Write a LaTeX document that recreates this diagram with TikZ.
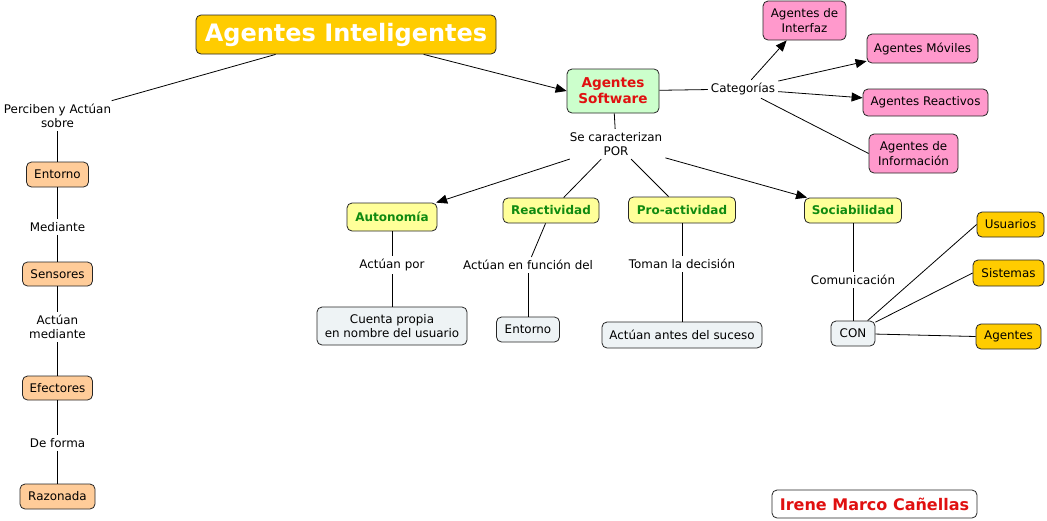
\documentclass[tikz,border=0pt]{standalone}
\usepackage{fontspec}
\setmainfont{DejaVu Sans}
\usetikzlibrary{arrows.meta}
\definecolor{cgold}{HTML}{FFCC00}
\definecolor{cgreen}{HTML}{CCFFCC}
\definecolor{cpink}{HTML}{FF99CC}
\definecolor{cyellow}{HTML}{FFFF99}
\definecolor{cgrey}{HTML}{EEF3F5}
\definecolor{cpeach}{HTML}{FFCC99}
\definecolor{tred}{HTML}{E01010}
\definecolor{tgreen}{HTML}{108A10}
\begin{document}
\begin{tikzpicture}[x=1pt,y=-1pt,
  box/.style={draw=black!85,line width=0.8pt,rounded corners=5pt,inner sep=1pt,align=center,
    font=\fontsize{11.9}{14.5}\selectfont},
  lab/.style={inner sep=3pt,align=center,font=\fontsize{11.9}{14.5}\selectfont},
  peach/.style={box,fill=cpeach},
  pink/.style={box,fill=cpink},
  yel/.style={box,fill=cyellow,text=tgreen,font=\fontsize{12}{14}\selectfont\bfseries},
  grey/.style={box,fill=cgrey},
  gold/.style={box,fill=cgold},
  link/.style={line width=0.8pt,black},
  arr/.style={link,-{Triangle[length=11pt,width=9pt]}}
]
\useasboundingbox[fill=white] (0,0) rectangle (1047,520);

% main concepts
\node[box,fill=cgold,text=white,font=\fontsize{24}{28}\selectfont\bfseries,minimum width=300,minimum height=39] (title) at (346,34.5) {Agentes Inteligentes};
\node[box,fill=cgreen,text=tred,font=\fontsize{13.6}{16}\selectfont\bfseries,minimum width=92,minimum height=44] (sw) at (613,91) {Agentes\\Software};

% categories
\node[lab] (cat) at (743,89) {Categorías};
\node[pink,minimum width=83,minimum height=39] (int) at (804.5,20.5) {Agentes de\\Interfaz};
\node[pink,minimum width=111,minimum height=29] (mov) at (922.5,48.5) {Agentes Móviles};
\node[pink,minimum width=125,minimum height=27] (rea) at (925.5,102.5) {Agentes Reactivos};
\node[pink,minimum width=89,minimum height=39] (inf) at (913.5,153.5) {Agentes de\\Información};

% characteristics
\node[lab] (secar) at (616,144) {Se caracterizan\\POR};
\node[yel,minimum width=90,minimum height=28] (aut) at (392,217) {Autonomía};
\node[yel,minimum width=96,minimum height=25] (reac) at (551,210.5) {Reactividad};
\node[yel,minimum width=107,minimum height=26] (pro) at (682,210) {Pro-actividad};
\node[yel,minimum width=97,minimum height=25] (soc) at (853,210.5) {Sociabilidad};

\node[lab] (actpor) at (392,265) {Actúan por};
\node[grey,minimum width=150,minimum height=38] (cuenta) at (392,326) {Cuenta propia\\en nombre del usuario};
\node[lab] (func) at (528,265) {Actúan en función del};
\node[grey,minimum width=63,minimum height=25] (ent2) at (528,329.5) {Entorno};
\node[lab] (toman) at (682,264) {Toman la decisión};
\node[grey,minimum width=160,minimum height=26] (antes) at (682,335) {Actúan antes del suceso};
\node[lab] (comu) at (853,280) {Comunicación};
\node[grey,minimum width=44,minimum height=25] (con) at (853,333.5) {CON};
\node[gold,minimum width=67,minimum height=25] (usu) at (1010.5,224.5) {Usuarios};
\node[gold,minimum width=71,minimum height=26] (sis) at (1008.5,273) {Sistemas};
\node[gold,minimum width=65,minimum height=25] (ag) at (1008.5,336.5) {Agentes};

% left column
\node[lab] (perc) at (57.5,116) {Perciben y Actúan\\sobre};
\node[peach,minimum width=62,minimum height=25] (ent1) at (57.5,174.5) {Entorno};
\node[lab] (med) at (57.5,227) {Mediante};
\node[peach,minimum width=70,minimum height=24] (sens) at (57.5,274) {Sensores};
\node[lab] (actmed) at (57.5,327) {Actúan\\mediante};
\node[peach,minimum width=70,minimum height=24] (efec) at (57.5,388) {Efectores};
\node[lab] (defor) at (57.5,443) {De forma};
\node[peach,minimum width=75,minimum height=25] (raz) at (57.5,496.5) {Razonada};

% author
\node[box,fill=white,text=tred,font=\fontsize{16}{19}\selectfont\bfseries,minimum width=205,minimum height=28] (irene) at (874.5,504) {Irene Marco Cañellas};

% connectors
\draw[link] (title) -- (perc);
\draw[link] (perc) -- (ent1);
\draw[link] (ent1) -- (med);
\draw[link] (med) -- (sens);
\draw[link] (sens) -- (actmed);
\draw[link] (actmed) -- (efec);
\draw[link] (efec) -- (defor);
\draw[link] (defor) -- (raz);

\draw[arr] (title) -- (sw.west);
\draw[link] (sw) -- (cat);
\draw[arr] (cat) -- (int);
\draw[arr] (cat) -- (mov);
\draw[arr] (cat) -- (rea);
\draw[link] (cat) -- (inf.west);

\draw[link] (sw) -- (secar);
\draw[arr] (secar) -- (aut);
\draw[link] (secar) -- (reac);
\draw[link] (secar) -- (pro);
\draw[arr] (secar) -- (soc);

\draw[link] (aut) -- (actpor);
\draw[link] (actpor) -- (cuenta);
\draw[link] (reac) -- (func);
\draw[link] (func) -- (ent2);
\draw[link] (pro) -- (toman);
\draw[link] (toman) -- (antes);
\draw[link] (soc) -- (comu);
\draw[link] (comu) -- (con);
\draw[link] (con) -- (usu.west);
\draw[link] (con) -- (sis.west);
\draw[link] (con) -- (ag.west);
\end{tikzpicture}
\end{document}
